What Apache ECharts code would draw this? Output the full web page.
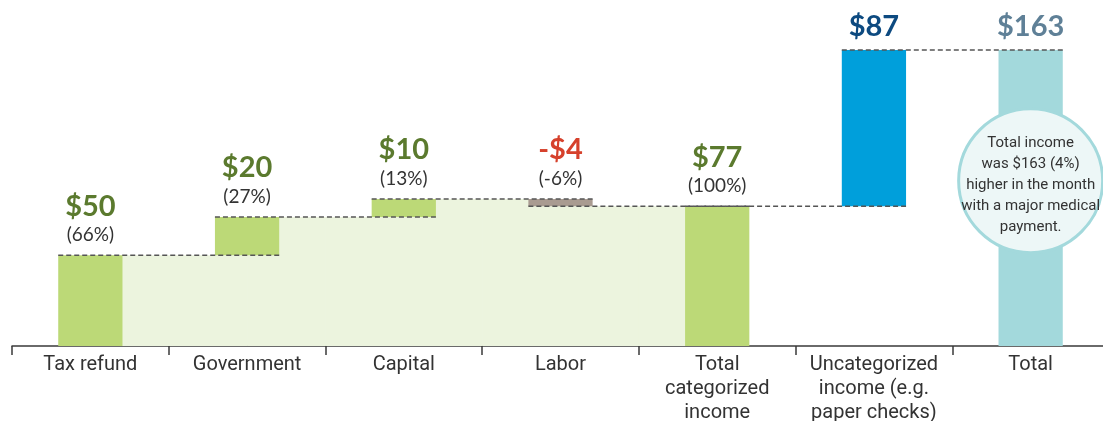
<!DOCTYPE html>
<html>
<head>
<meta charset="utf-8">
<script src="https://cdn.jsdelivr.net/npm/echarts@6/dist/echarts.min.js"></script>
<style>
html,body{margin:0;padding:0;background:#fff;overflow:hidden;}
#chart{width:1103px;height:421px;}
</style>
</head>
<body>
<div id="chart"></div>
<script>
// ---- data ----
const categories = ['Tax refund', 'Government', 'Capital', 'Labor', 'Total\ncategorized\nincome', 'Uncategorized\nincome (e.g.\npaper checks)', 'Total'];
const barStart = [0, 50, 71, 81, 0, 77, 0];
const barEnd = [50, 71, 81, 77, 77, 163, 163];
const valueLabels = ['$50', '$20', '$10', '-$4', '$77', '$87', '$163'];
const shareLabels = ['(66%)', '(27%)', '(13%)', '(-6%)', '(100%)', '', ''];
const noteText = 'Total income\nwas $163 (4%)\nhigher in the month\nwith a major medical\npayment.';
const noteAnchor = [6, 91];

// ---- styles ----
const barColors = ['#bcd977', '#bcd977', '#bcd977', '#a99b91', '#bcd977', '#009fdb', '#a3d9dc'];
const labelColors = ['#5b7a2e', '#5b7a2e', '#5b7a2e', '#d6412c', '#5b7a2e', '#0d4a80', '#5f8097'];
const fillColor = '#ecf4de';
const axisFont = '"Liberation Sans Narrow", "Roboto", sans-serif';
const BAR_RATIO = 0.41;

const chart = echarts.init(document.getElementById('chart'), null, {renderer: 'canvas'});
const idx = categories.map((c, i) => [i]);

const option = {
  animation: false,
  grid: {left: 12, top: 50, width: 1097, height: 296, containLabel: false, outerBoundsMode: 'none'},
  xAxis: {
    type: 'category',
    data: categories,
    boundaryGap: true,
    axisLine: {show: true, lineStyle: {color: '#3a3a3a', width: 1.5}},
    axisTick: {show: true, interval: 0, length: 9, lineStyle: {color: '#3a3a3a', width: 1.5}},
    axisLabel: {interval: 0, margin: 7, color: '#333', fontSize: 20, lineHeight: 24, fontFamily: axisFont, hideOverlap: false},
    splitLine: {show: false}
  },
  yAxis: {type: 'value', min: 0, max: 163, show: false, splitLine: {show: false}},
  series: [
    {
      type: 'custom', z: 1,
      data: idx.slice(0, 5),
      renderItem: function (params, api) {
        const i = api.value(0);
        const band = api.size([1, 0])[0];
        const c = api.coord([i, 0]);
        const L = i === 0 ? 0 : (i === 4 ? barEnd[3] : barStart[i]);
        const R = i === 4 ? 0 : barEnd[i];
        const children = [];
        if (L > 0) {
          const yL = api.coord([i, L])[1];
          children.push({type: 'rect', shape: {x: c[0] - band / 2, y: yL, width: band / 2 + 0.5, height: c[1] - yL}, style: {fill: fillColor}});
        }
        if (R > 0) {
          const yR = api.coord([i, R])[1];
          children.push({type: 'rect', shape: {x: c[0], y: yR, width: band / 2 + 0.5, height: c[1] - yR}, style: {fill: fillColor}});
        }
        return {type: 'group', children: children};
      }
    },
    {
      type: 'custom', z: 2,
      data: idx,
      renderItem: function (params, api) {
        const i = api.value(0);
        const band = api.size([1, 0])[0];
        const bw = band * BAR_RATIO;
        const p0 = api.coord([i, barStart[i]]);
        const p1 = api.coord([i, barEnd[i]]);
        const top = Math.min(p0[1], p1[1]);
        const h = Math.abs(p0[1] - p1[1]);
        const children = [
          {type: 'rect', shape: {x: p0[0] - bw / 2, y: top, width: bw, height: h}, style: {fill: barColors[i]}}
        ];
        const hasShare = shareLabels[i] !== '';
        children.push({
          type: 'text', z2: 10,
          style: {
            text: valueLabels[i], x: p0[0], y: top - (hasShare ? 49 : 23),
            align: 'center', verticalAlign: 'middle',
            fill: labelColors[i], font: 'bold 29px Lato, sans-serif'
          }
        });
        if (hasShare) {
          children.push({
            type: 'text', z2: 10,
            style: {
              text: shareLabels[i], x: p0[0], y: top - 20,
              align: 'center', verticalAlign: 'middle',
              fill: '#333', font: '19px Lato, sans-serif'
            }
          });
        }
        return {type: 'group', children: children};
      }
    },
    {
      type: 'custom', z: 3,
      data: idx.slice(0, 6),
      renderItem: function (params, api) {
        const i = api.value(0);
        const band = api.size([1, 0])[0];
        const bw = band * BAR_RATIO;
        const a = api.coord([i, barEnd[i]]);
        const b = api.coord([i + 1, barEnd[i]]);
        return {
          type: 'line',
          shape: {x1: a[0] - bw / 2, y1: a[1], x2: b[0] + bw / 2, y2: a[1]},
          style: {stroke: '#555', lineWidth: 1.5, lineDash: [5, 3]}
        };
      }
    },
    {
      type: 'custom', z: 4,
      data: [noteAnchor],
      renderItem: function (params, api) {
        const c = api.coord([api.value(0), api.value(1)]);
        return {
          type: 'group',
          children: [
            {type: 'circle', shape: {cx: c[0], cy: c[1], r: 72}, style: {fill: '#edf7f7', stroke: '#a3d9dc', lineWidth: 3}},
            {type: 'text', style: {text: noteText, x: c[0], y: c[1] + 5, align: 'center', verticalAlign: 'middle',
              fill: '#333', fontSize: 15, lineHeight: 21, fontFamily: axisFont}}
          ]
        };
      }
    }
  ]
};
chart.setOption(option);
</script>
</body>
</html>
